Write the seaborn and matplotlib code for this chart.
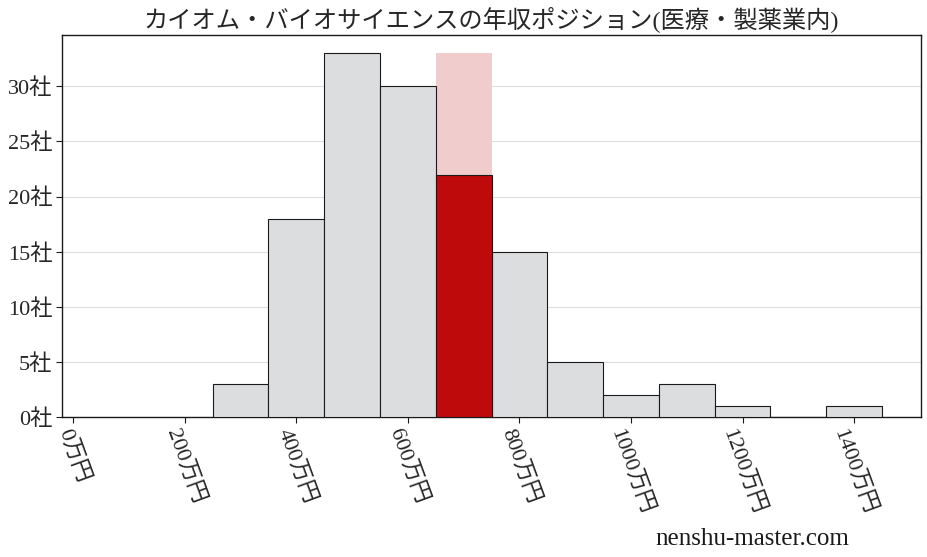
import numpy as np
import pandas as pd
import matplotlib
matplotlib.use("Agg")
import matplotlib.pyplot as plt
import seaborn as sns

# Data
bin_centers = [300, 400, 500, 600, 700, 800, 900, 1000, 1100, 1200, 1300, 1400]
company_counts = [3, 18, 33, 30, 22, 15, 5, 2, 3, 1, 0, 1]
highlight_center = 700
x_ticks = [0, 200, 400, 600, 800, 1000, 1200, 1400]
y_ticks = [0, 5, 10, 15, 20, 25, 30]
title = "カイオム・バイオサイエンスの年収ポジション(医療・製薬業内)"
watermark = "nenshu-master.com"

sns.set_theme(style="white")
plt.rcParams['font.family'] = ['Liberation Serif', 'Noto Sans CJK JP', 'DejaVu Sans']

df = pd.DataFrame({"center": bin_centers, "count": company_counts})
binw = 100
lo = min(bin_centers) - binw / 2
hi_edge = max(bin_centers) + binw / 2

fig = plt.figure(figsize=(9.28, 5.57), dpi=100)
ax = fig.add_axes([0.0668, 0.2513, 0.9257, 0.6857])

gray_df = df[df["center"] != highlight_center]
sns.histplot(data=gray_df, x="center", weights="count", binwidth=binw,
             binrange=(lo, hi_edge),
             color="#dcdddf", edgecolor="#1a1a1a", linewidth=0.8, alpha=1,
             ax=ax, zorder=3)

hi = df[df["center"] == highlight_center]
ax.bar(hi["center"], df["count"].max(), width=binw, color="#f0cccc",
       edgecolor="none", zorder=2)
ax.bar(hi["center"], hi["count"], width=binw, color="#be0a0a",
       edgecolor="#1a1a1a", linewidth=0.8, zorder=4)

ax.set_xlim(-20, 1520)
ax.set_ylim(0, df["count"].max() * 1.05)
ax.set_xticks(x_ticks)
ax.set_xticklabels([f"{v}万円" for v in x_ticks], rotation=-70, fontsize=16)
ax.set_yticks(y_ticks)
ax.set_yticklabels([f"{v}社" for v in y_ticks], fontsize=16)
ax.set_xlabel("")
ax.set_ylabel("")
ax.yaxis.grid(True, color="#dddddd", linewidth=0.8, zorder=0)
ax.set_axisbelow(True)
ax.tick_params(axis="both", bottom=True, left=True, length=4, width=0.8,
               color="#1a1a1a", pad=3)
for s in ax.spines.values():
    s.set_color("#1a1a1a")
    s.set_linewidth(1.0)
ax.set_title(title, fontsize=17.5, pad=6)

fig.text(0.706, 0.022, watermark, fontsize=18, color="#1a1a1a")

fig.savefig("out.png", dpi=100)
